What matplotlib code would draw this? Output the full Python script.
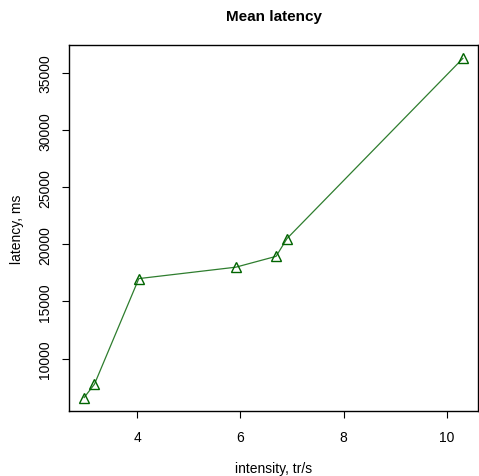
import matplotlib
matplotlib.use("Agg")
import matplotlib.pyplot as plt

plt.rcParams['font.family'] = ['Liberation Sans', 'DejaVu Sans']

intensity = [2.97, 3.17, 4.03, 5.91, 6.69, 6.90, 10.31]
latency = [6580, 7750, 17000, 18000, 18950, 20500, 36290]
x_ticks = [4, 6, 8, 10]
y_ticks = [10000, 15000, 20000, 25000, 30000, 35000]

fig = plt.figure(figsize=(4.79, 4.77), dpi=100)
ax = fig.add_axes([0.144, 0.136, 0.854, 0.768])

ax.plot(intensity, latency, color='#2e7d2e', linewidth=0.9)
ax.plot(intensity, latency, linestyle='none', marker='^', markersize=6.5,
        markerfacecolor='none', markeredgecolor='#006400', markeredgewidth=1.0)

xr = max(intensity) - min(intensity)
yr = max(latency) - min(latency)
ax.set_xlim(min(intensity) - 0.04 * xr, max(intensity) + 0.04 * xr)
ax.set_ylim(min(latency) - 0.04 * yr, max(latency) + 0.04 * yr)

ax.set_xticks(x_ticks)
ax.set_yticks(y_ticks)
ax.set_xticklabels([str(t) for t in x_ticks], fontsize=10)
ax.set_yticklabels([str(t) for t in y_ticks], fontsize=10, rotation=90, va='center')
ax.tick_params(axis='x', direction='out', length=5, width=0.8, pad=8.5)
ax.tick_params(axis='y', direction='out', length=5, width=0.8, pad=7)

for s in ax.spines.values():
    s.set_linewidth(1.0)
    s.set_color('black')

ax.set_xlabel('intensity, tr/s', fontsize=10, labelpad=12)
ax.set_ylabel('latency, ms', fontsize=10, labelpad=10.5)
ax.set_title('Mean latency', fontsize=11, fontweight='bold', pad=17.5)

fig.savefig('out.png', dpi=100)
